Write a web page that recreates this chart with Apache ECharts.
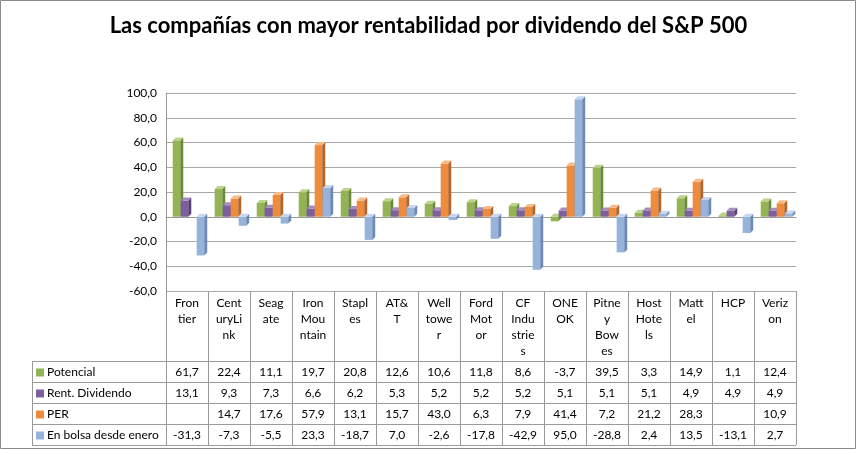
<!DOCTYPE html>
<html>
<head>
<meta charset="utf-8" />
<title>Las compañías con mayor rentabilidad por dividendo del S&amp;P 500</title>
<script src="https://cdn.jsdelivr.net/npm/echarts@6/dist/echarts.min.js"></script>
<style>
  html, body { margin: 0; padding: 0; background: #fff; }
  #main { width: 857px; height: 450px; }
</style>
</head>
<body>
<div id="main"></div>
<script type="text/javascript">
// datos
var categories = ["Frontier", "CenturyLink", "Seagate", "Iron Mountain", "Staples", "AT&T", "Welltower",
  "Ford Motor", "CF Industries", "ONE OK", "Pitney Bowes", "Host Hotels", "Mattel", "HCP", "Verizon"];
// etiquetas tal como aparecen cortadas en la tabla
var catLabels = ["Fron\ntier", "Cent\nuryLi\nnk", "Seag\nate", "Iron\nMou\nntain", "Stapl\nes", "AT&\nT",
  "Well\ntowe\nr", "Ford\nMot\nor", "CF\nIndu\nstrie\ns", "ONE\nOK", "Pitne\ny\nBow\nes", "Host\nHote\nls",
  "Matt\nel", "HCP", "Veriz\non"];
var potencial = [61.7, 22.4, 11.1, 19.7, 20.8, 12.6, 10.6, 11.8, 8.6, -3.7, 39.5, 3.3, 14.9, 1.1, 12.4];
var rentDividendo = [13.1, 9.3, 7.3, 6.6, 6.2, 5.3, 5.2, 5.2, 5.2, 5.1, 5.1, 5.1, 4.9, 4.9, 4.9];
var per = [null, 14.7, 17.6, 57.9, 13.1, 15.7, 43.0, 6.3, 7.9, 41.4, 7.2, 21.2, 28.3, null, 10.9];
var enBolsa = [-31.3, -7.3, -5.5, 23.3, -18.7, 7.0, -2.6, -17.8, -42.9, 95.0, -28.8, 2.4, 13.5, -13.1, 2.7];
var seriesNames = ["Potencial", "Rent. Dividendo", "PER", "En bolsa desde enero"];
var yMin = -60, yMax = 100, yStep = 20;

var allSeries = [potencial, rentDividendo, per, enBolsa];
// front / side / top
var colors = [
  ["#94b454", "#6b8a35", "#b9d388"],
  ["#7d5e9e", "#573e75", "#a58dc1"],
  ["#ee8b3d", "#b5642a", "#f8bb88"],
  ["#98b3da", "#6d89b6", "#c6d6ee"]
];
var lineColor = "#9a9a9a";
var font = "Lato, 'Open Sans', sans-serif";

function fmt(v) {
  return v == null ? "" : v.toFixed(1).replace(".", ",");
}

// barra 3D: cara frontal, lateral y superior
function bar3d(s) {
  return function (params, api) {
    var i = api.value(0), v = api.value(1);
    var base = api.coord([i, 0]);
    var end = api.coord([i, v]);
    var band = api.size([1, 0])[0];
    var w = band * 0.18;
    var pitch = band * 0.19;
    var d = 3;
    var x0 = base[0] - band * 0.34 + s * pitch;
    var yTop = Math.min(base[1], end[1]);
    var yBot = Math.max(base[1], end[1]);
    var c = colors[s];
    return {
      type: "group",
      children: [
        { type: "rect", shape: { x: x0, y: yTop, width: w, height: yBot - yTop }, style: { fill: c[0] } },
        { type: "polygon", shape: { points: [[x0 + w, yTop], [x0 + w + d, yTop - d], [x0 + w + d, yBot - d], [x0 + w, yBot]] }, style: { fill: c[1] } },
        { type: "polygon", shape: { points: [[x0, yTop], [x0 + w, yTop], [x0 + w + d, yTop - d], [x0 + d, yTop - d]] }, style: { fill: c[2] } }
      ]
    };
  };
}

var chart = echarts.init(document.getElementById("main"));

var option = {
  animation: false,
  title: {
    text: "Las compañías con mayor rentabilidad por dividendo del S&P 500",
    left: "center",
    top: 10,
    textStyle: { fontFamily: font, fontSize: 22, fontWeight: "bold", color: "#000" }
  },
  grid: { left: 166, right: 61, top: 93, bottom: 159 },
  xAxis: {
    type: "category",
    data: categories,
    axisLabel: { show: false },
    axisTick: { show: false },
    axisLine: { lineStyle: { color: lineColor } }
  },
  yAxis: {
    type: "value",
    min: yMin,
    max: yMax,
    interval: yStep,
    axisLabel: { formatter: fmt, fontFamily: font, fontSize: 12, color: "#000", margin: 9 },
    axisLine: { show: true, lineStyle: { color: lineColor } },
    axisTick: { show: false },
    splitLine: { lineStyle: { color: "#a8a8a8" } }
  },
  series: allSeries.map(function (arr, s) {
    return {
      name: seriesNames[s],
      type: "custom",
      renderItem: bar3d(s),
      encode: { x: 0, y: 1 },
      data: arr.map(function (v, i) { return v == null ? null : [i, v]; }).filter(Boolean)
    };
  })
};
chart.setOption(option);

// tabla de datos
var x0 = chart.convertToPixel({ xAxisIndex: 0 }, 0);
var x1 = chart.convertToPixel({ xAxisIndex: 0 }, 1);
var colW = x1 - x0;
var tLeft = x0 - colW / 2;
var tRight = tLeft + colW * categories.length;
var floorY = chart.convertToPixel({ yAxisIndex: 0 }, yMin);
var hdrLeft = 32;
var rowTop = 361, rowH = 21;
var g = [];

g.push({ type: "rect", shape: { x: 0.5, y: 0.5, width: 855, height: 448 }, style: { fill: null, stroke: "#8a8a8a", lineWidth: 1 }, silent: true });

for (var k = 0; k <= categories.length; k++) {
  var lx = Math.round(tLeft + k * colW) + 0.5;
  g.push({ type: "line", shape: { x1: lx, y1: floorY, x2: lx, y2: rowTop + rowH * 4 }, style: { stroke: lineColor, lineWidth: 1 } });
}
for (var r = 0; r <= 4; r++) {
  var ly = rowTop + r * rowH + 0.5;
  g.push({ type: "line", shape: { x1: hdrLeft, y1: ly, x2: tRight, y2: ly }, style: { stroke: lineColor, lineWidth: 1 } });
}
g.push({ type: "line", shape: { x1: hdrLeft + 0.5, y1: rowTop, x2: hdrLeft + 0.5, y2: rowTop + rowH * 4 }, style: { stroke: lineColor, lineWidth: 1 } });

categories.forEach(function (c, i) {
  var cx = chart.convertToPixel({ xAxisIndex: 0 }, i);
  g.push({ type: "text", x: cx, y: floorY + 4, style: { text: catLabels[i], fontFamily: font, fontSize: 12, lineHeight: 16, fill: "#000", align: "center", verticalAlign: "top" } });
  allSeries.forEach(function (arr, s) {
    g.push({ type: "text", x: cx, y: rowTop + s * rowH + rowH / 2 + 1, style: { text: fmt(arr[i]), fontFamily: font, fontSize: 12, fill: "#000", align: "center", verticalAlign: "middle" } });
  });
});

seriesNames.forEach(function (n, s) {
  var cy = rowTop + s * rowH + rowH / 2 + 1;
  g.push({ type: "rect", shape: { x: hdrLeft + 4, y: cy - 4, width: 8, height: 8 }, style: { fill: colors[s][0] } });
  g.push({ type: "text", x: hdrLeft + 15, y: cy, style: { text: n, fontFamily: font, fontSize: 12, fill: "#000", align: "left", verticalAlign: "middle" } });
});

chart.setOption({ graphic: g });
</script>
</body>
</html>
